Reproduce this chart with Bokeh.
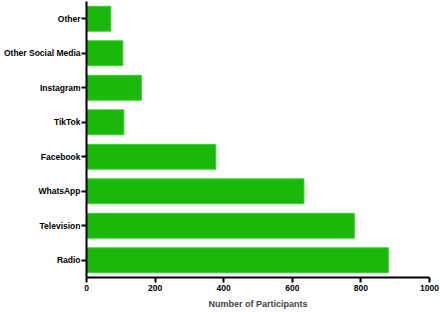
from bokeh.plotting import figure
from bokeh.models import FixedTicker, Range1d
from bokeh.embed import file_html
from bokeh.resources import INLINE

# Media sources (bottom to top) and participant counts
sources = ["Radio", "Television", "WhatsApp", "Facebook", "TikTok",
           "Instagram", "Other Social Media", "Other"]
participants = [880, 781, 634, 377, 109, 160, 106, 71]
x_ticks = [0, 200, 400, 600, 800, 1000]

p = figure(frame_width=343, frame_height=276, output_backend="svg",
           toolbar_location=None,
           y_range=sources, x_range=Range1d(0, 1000),
           min_border_left=85, min_border_right=12,
           min_border_top=1, min_border_bottom=35)
p.y_range.range_padding = 0.0
p.y_range.factor_padding = 0.0
p.y_range.group_padding = 0.0

p.hbar(y=sources, right=participants, left=0, height=0.72,
       fill_color="#19b80b", line_color="#3ccf30", line_width=1)

p.xgrid.visible = False
p.ygrid.visible = False
p.outline_line_color = None
p.background_fill_color = "white"
p.border_fill_color = "white"

for ax in (p.xaxis, p.yaxis):
    ax.axis_line_width = 2
    ax.axis_line_color = "black"
    ax.major_tick_line_width = 2
    ax.major_tick_line_color = "black"
    ax.major_tick_out = 5
    ax.major_tick_in = 0
    ax.minor_tick_line_color = None
    ax.major_label_text_font = "Liberation Sans"
    ax.major_label_text_font_style = "bold"
    ax.major_label_text_font_size = "8.5px"
    ax.major_label_text_color = "black"

p.xaxis.ticker = FixedTicker(ticks=x_ticks)
p.xaxis.axis_label = "Number of Participants"
p.xaxis.axis_label_text_font = "Liberation Sans"
p.xaxis.axis_label_text_font_style = "bold"
p.xaxis.axis_label_text_font_size = "9px"
p.xaxis.axis_label_standoff = 5
p.xaxis.major_label_standoff = 2
p.yaxis.major_label_standoff = 1

open("out.html", "w").write(file_html(p, INLINE))
